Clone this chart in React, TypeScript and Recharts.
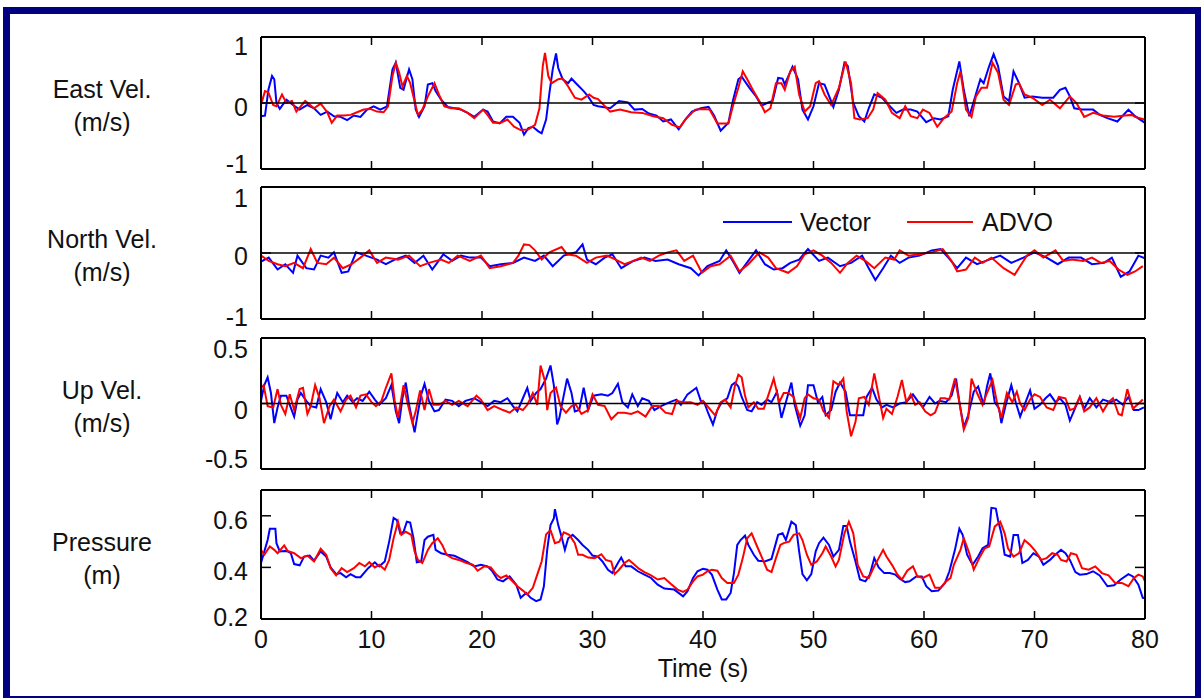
import React from 'react';
import { LineChart, Line, XAxis, YAxis, ReferenceLine } from 'recharts';

const FONT = '"Liberation Sans", Arial, Helvetica, sans-serif';
const VECTOR_COLOR = '#0000ff';
const ADVO_COLOR = '#ff0000';
const TEXT_COLOR = '#111';

const timeTicks = [0, 10, 20, 30, 40, 50, 60, 70, 80];

// [time (s), value] pairs
const eastVector: [number, number][] = [
  [0, -0.2], [0.36, -0.19], [0.67, 0.2], [1.0, 0.41], [1.2, 0.36], [1.4, 0.0], [1.7, -0.09], [2.3, 0.05],
  [2.9, -0.03], [3.5, -0.1], [4.2, -0.03], [4.8, -0.08], [5.4, -0.18], [6.0, -0.13], [6.6, -0.2], [7.2, -0.21],
  [7.8, -0.26], [8.4, -0.19], [9.0, -0.21], [9.6, -0.1], [10.2, -0.05], [10.8, -0.1], [11.4, -0.05], [11.9, 0.51],
  [12.2, 0.61], [12.6, 0.23], [12.9, 0.2], [13.4, 0.51], [13.7, 0.36], [14.0, -0.1], [14.3, -0.21], [14.8, -0.05],
  [15.1, 0.28], [15.5, 0.3], [15.8, 0.18], [16.3, 0.05], [16.9, -0.06], [17.5, -0.08], [18.1, -0.1], [18.7, -0.15],
  [19.3, -0.21], [20.1, -0.1], [20.5, -0.13], [21.0, -0.28], [21.6, -0.31], [22.2, -0.21], [22.8, -0.21], [23.4, -0.3],
  [23.8, -0.48], [24.2, -0.38], [24.6, -0.36], [25.1, -0.43], [25.4, -0.46], [25.8, -0.25], [26.1, 0.15], [26.4, 0.51],
  [26.7, 0.75], [26.9, 0.53], [27.3, 0.36], [27.8, 0.3], [28.1, 0.37], [28.5, 0.3], [29.2, 0.18], [29.6, 0.1],
  [30.1, -0.03], [30.5, -0.05], [31.6, -0.08], [32.4, 0.03], [33.2, 0.01], [33.8, -0.1], [34.5, -0.09], [35.1, -0.16],
  [35.8, -0.19], [36.4, -0.28], [37.1, -0.25], [37.8, -0.4], [38.4, -0.25], [39.0, -0.13], [39.8, -0.08], [40.5, -0.06],
  [41.0, -0.19], [41.6, -0.42], [42.3, -0.3], [42.7, 0.03], [43.2, 0.36], [43.5, 0.4], [44.2, 0.23], [44.8, 0.1],
  [45.3, -0.04], [45.8, 0.0], [46.3, 0.03], [46.8, 0.38], [47.2, 0.37], [47.4, 0.28], [48.1, 0.55], [48.6, 0.36],
  [49.0, -0.1], [49.5, -0.25], [50.0, -0.05], [50.5, 0.3], [51.0, 0.28], [51.8, -0.06], [52.3, 0.2], [52.8, 0.61],
  [53.1, 0.56], [53.6, 0.0], [54.1, -0.2], [54.6, -0.28], [55.0, -0.08], [55.5, 0.13], [56.2, 0.08], [56.8, -0.03],
  [57.5, -0.15], [58.1, -0.1], [58.8, -0.1], [59.4, -0.13], [60.2, -0.29], [60.9, -0.23], [61.5, -0.25], [62.2, -0.2],
  [62.6, 0.2], [63.2, 0.63], [63.6, 0.2], [64.1, -0.2], [64.6, 0.08], [65.1, 0.36], [65.4, 0.3], [65.9, 0.56],
  [66.3, 0.74], [66.7, 0.56], [67.2, 0.1], [67.7, 0.03], [68.1, 0.48], [68.6, 0.3], [69.1, 0.08], [69.8, 0.1],
  [70.7, 0.08], [71.7, 0.08], [72.3, 0.2], [72.8, 0.23], [73.2, 0.1], [73.6, -0.08], [74.3, -0.1], [75.3, -0.1],
  [75.9, -0.18], [76.6, -0.23], [77.5, -0.28], [78.5, -0.1], [79.1, -0.2], [80, -0.3],
];

const eastAdvo: [number, number][] = [
  [0, -0.03], [0.36, 0.18], [0.67, 0.16], [1.1, -0.03], [1.4, -0.05], [1.9, 0.13], [2.3, 0.0], [2.8, 0.03],
  [3.2, -0.13], [4.0, 0.03], [4.8, -0.08], [5.4, -0.01], [6.0, -0.14], [6.4, -0.3], [6.9, -0.19], [7.5, -0.19],
  [8.1, -0.18], [8.7, -0.14], [9.3, -0.1], [9.9, -0.09], [10.5, -0.13], [11.1, -0.14], [11.5, -0.05], [11.9, 0.41],
  [12.2, 0.61], [12.5, 0.46], [12.8, 0.25], [13.2, 0.41], [13.5, 0.3], [14.2, -0.18], [14.6, -0.1], [15.1, 0.1],
  [15.7, 0.3], [16.1, 0.13], [16.6, -0.05], [17.2, -0.08], [17.9, -0.08], [18.7, -0.15], [19.3, -0.23], [20.1, -0.1],
  [20.5, -0.18], [21.0, -0.3], [21.7, -0.3], [22.3, -0.25], [22.9, -0.36], [23.5, -0.41], [24.2, -0.4], [24.8, -0.33],
  [25.2, -0.08], [25.5, 0.56], [25.7, 0.76], [26.0, 0.41], [26.3, 0.3], [26.9, 0.36], [27.3, 0.37], [27.8, 0.25],
  [28.4, 0.08], [29.0, 0.05], [29.7, 0.13], [30.1, 0.08], [30.5, 0.06], [31.6, -0.13], [32.5, -0.1], [33.5, -0.14],
  [34.5, -0.15], [35.5, -0.2], [36.4, -0.23], [37.2, -0.33], [37.9, -0.37], [38.5, -0.23], [39.3, -0.1], [40.0, -0.09],
  [40.6, -0.1], [41.3, -0.31], [42.3, -0.31], [42.7, -0.05], [43.2, 0.23], [43.6, 0.48], [44.0, 0.36], [44.5, 0.2],
  [45.2, 0.0], [45.6, -0.14], [46.1, -0.08], [46.6, 0.3], [47.1, 0.3], [47.4, 0.2], [47.9, 0.48], [48.3, 0.55],
  [48.7, 0.13], [49.2, -0.13], [49.7, -0.05], [50.2, 0.3], [50.5, 0.33], [51.0, 0.13], [51.6, -0.03], [52.3, 0.23],
  [52.9, 0.63], [53.4, 0.3], [53.7, -0.23], [54.2, -0.25], [54.9, -0.23], [55.4, -0.1], [55.8, 0.15], [56.5, 0.05],
  [57.1, -0.15], [57.8, -0.23], [58.3, -0.05], [58.8, -0.2], [59.4, -0.23], [59.9, -0.1], [60.5, -0.15], [61.2, -0.36],
  [61.8, -0.23], [62.5, -0.13], [63.0, 0.3], [63.3, 0.48], [63.8, -0.1], [64.3, -0.21], [64.7, 0.1], [65.2, 0.23],
  [65.7, 0.23], [66.2, 0.61], [66.7, 0.46], [67.2, 0.05], [67.7, -0.03], [68.3, 0.28], [68.6, 0.3], [69.1, 0.13],
  [69.8, 0.08], [70.7, -0.03], [71.4, 0.05], [72.3, -0.08], [73.2, 0.1], [73.8, 0.0], [74.5, -0.21], [75.3, -0.15],
  [76.2, -0.19], [77.2, -0.21], [78.2, -0.19], [78.8, -0.18], [79.1, -0.21], [80, -0.25],
];

const northVector: [number, number][] = [
  [0, -0.13], [0.7, -0.07], [1.5, -0.25], [2.2, -0.17], [2.9, -0.3], [3.3, -0.04], [4.1, -0.23], [4.8, -0.25],
  [5.4, -0.04], [6.1, -0.07], [6.6, 0.01], [7.3, -0.3], [7.9, -0.28], [8.6, 0.01], [9.5, -0.04], [10.5, -0.1],
  [11.3, -0.17], [12.1, -0.1], [13.1, -0.04], [13.9, -0.15], [14.7, -0.04], [15.5, -0.25], [16.5, -0.02], [17.3, -0.12],
  [18.1, -0.04], [18.9, -0.07], [19.9, -0.07], [20.7, -0.2], [21.7, -0.17], [22.8, -0.15], [23.8, -0.07], [24.8, -0.12],
  [25.6, -0.04], [26.4, -0.2], [27.4, -0.04], [28.5, 0.01], [29.1, 0.13], [29.5, -0.1], [30.3, -0.17], [31.1, -0.07],
  [31.8, -0.02], [32.6, -0.23], [33.7, -0.12], [34.7, -0.07], [35.7, -0.12], [36.8, -0.1], [37.8, -0.17], [38.9, -0.23],
  [39.6, -0.34], [40.4, -0.2], [41.5, -0.12], [42.1, 0.04], [42.8, -0.15], [43.3, -0.3], [44.1, -0.12], [44.8, 0.04],
  [45.6, -0.17], [46.4, -0.25], [47.2, -0.23], [47.9, -0.15], [48.7, -0.1], [49.5, 0.06], [50.5, -0.12], [51.3, -0.07],
  [52.4, -0.2], [53.4, -0.15], [54.4, -0.04], [55.0, -0.23], [55.6, -0.41], [56.3, -0.23], [57.0, -0.04], [57.8, -0.15],
  [58.6, -0.07], [59.6, -0.04], [60.7, 0.04], [61.5, 0.06], [62.2, -0.07], [63.0, -0.23], [63.8, -0.07], [64.8, -0.17],
  [65.9, -0.1], [66.9, -0.04], [67.9, -0.15], [69.0, -0.07], [70.0, 0.01], [71.1, -0.07], [72.1, -0.17], [73.1, -0.07],
  [74.2, -0.07], [75.2, -0.17], [76.3, -0.15], [77.0, -0.07], [77.8, -0.36], [78.6, -0.28], [79.4, -0.04], [80, -0.08],
];

const northAdvo: [number, number][] = [
  [0, -0.04], [0.7, -0.12], [1.5, -0.17], [2.2, -0.2], [3.0, -0.15], [3.8, -0.23], [4.5, 0.06], [5.1, -0.15],
  [5.9, -0.17], [6.6, -0.07], [7.4, -0.23], [8.2, -0.17], [9.0, -0.07], [9.8, 0.04], [10.5, -0.15], [11.3, -0.07],
  [12.4, -0.1], [13.4, -0.04], [14.4, -0.2], [15.2, -0.15], [16.3, -0.1], [17.0, -0.15], [17.8, -0.04], [18.9, -0.12],
  [19.9, -0.04], [20.7, -0.23], [21.7, -0.2], [22.8, -0.15], [23.3, -0.04], [23.8, 0.13], [24.3, 0.12], [24.8, 0.04],
  [25.4, -0.1], [26.1, 0.01], [27.2, 0.09], [27.7, -0.02], [28.5, -0.04], [29.5, -0.15], [30.3, -0.07], [31.3, -0.04],
  [32.1, -0.1], [32.9, -0.17], [33.7, -0.12], [34.4, -0.07], [35.2, -0.12], [36.0, -0.04], [36.8, 0.01], [37.6, 0.04],
  [38.3, -0.12], [39.1, -0.04], [39.9, -0.3], [40.7, -0.2], [41.5, -0.17], [42.5, -0.04], [43.3, -0.28], [44.1, -0.17],
  [45.1, 0.01], [45.9, -0.07], [46.6, -0.23], [47.7, -0.3], [48.5, -0.2], [49.2, -0.02], [50.0, 0.04], [50.8, -0.04],
  [51.6, -0.15], [52.4, -0.3], [53.1, -0.15], [53.9, -0.04], [54.7, -0.12], [55.5, -0.23], [56.5, -0.07], [57.3, -0.1],
  [57.8, 0.04], [58.6, -0.04], [59.6, -0.02], [60.7, 0.01], [61.7, 0.06], [62.5, -0.12], [63.0, -0.28], [63.8, -0.25],
  [64.6, -0.07], [65.3, -0.15], [66.1, -0.07], [67.2, -0.23], [68.2, -0.33], [69.3, -0.04], [70.0, 0.04], [70.8, -0.07],
  [71.9, 0.04], [72.6, -0.12], [73.4, -0.1], [74.4, -0.12], [75.2, -0.07], [76.0, -0.15], [76.8, -0.12], [77.6, -0.25],
  [78.4, -0.33], [79.1, -0.28], [79.8, -0.2],
];

const upVector: [number, number][] = [
  [0, 0.02], [0.3, 0.14], [0.6, 0.2], [0.9, 0.08], [1.2, -0.15], [1.5, -0.03], [1.8, 0.06], [2.3, 0.06],
  [2.6, -0.01], [3.0, -0.1], [3.3, 0.03], [3.6, 0.08], [4.1, 0.02], [4.5, -0.02], [5.0, -0.03], [5.4, 0.11],
  [5.9, 0.01], [6.3, -0.12], [6.6, -0.01], [6.9, 0.08], [7.4, 0.01], [7.8, 0.06], [8.3, 0.01], [8.7, 0.04],
  [9.2, 0.02], [9.8, 0.09], [10.3, 0.03], [10.7, -0.01], [11.3, 0.04], [11.8, 0.14], [12.2, -0.06], [12.5, -0.15],
  [12.8, 0.04], [13.1, 0.16], [13.4, -0.01], [13.9, -0.22], [14.2, -0.07], [14.5, 0.07], [14.8, 0.15], [15.2, 0.02],
  [15.7, -0.06], [16.1, -0.05], [16.7, 0.03], [17.3, 0.02], [17.9, -0.02], [18.5, 0.02], [19.3, 0.04], [19.9, 0.01],
  [20.5, -0.02], [21.1, 0.02], [21.7, 0.01], [22.3, 0.04], [22.8, -0.02], [23.2, -0.06], [23.7, 0.04], [24.1, 0.12],
  [24.4, 0.02], [24.9, 0.08], [25.3, 0.11], [25.8, 0.19], [26.2, 0.29], [26.5, 0.14], [26.8, -0.16], [27.0, -0.11],
  [27.3, 0.02], [27.7, 0.19], [28.1, 0.08], [28.4, -0.06], [28.8, -0.05], [29.2, 0.12], [29.6, -0.05], [30.1, 0.06],
  [30.8, 0.07], [31.4, 0.06], [31.8, 0.08], [32.3, 0.15], [32.7, 0.01], [33.2, -0.03], [33.6, 0.07], [34.1, -0.02],
  [34.5, 0.04], [35.1, 0.02], [35.6, -0.05], [36.2, -0.02], [37.0, 0.01], [37.6, 0.03], [38.0, -0.01], [38.6, 0.07],
  [39.4, 0.12], [39.8, 0.02], [40.1, 0.01], [40.5, -0.08], [40.9, -0.16], [41.3, -0.05], [41.7, 0.01], [42.2, 0.04],
  [42.6, 0.14], [42.9, 0.16], [43.2, 0.13], [43.5, 0.05], [44.0, -0.05], [44.4, -0.06], [44.9, 0.01], [45.3, -0.01],
  [45.8, 0.03], [46.2, 0.01], [46.7, 0.09], [47.1, -0.11], [47.5, 0.01], [48.0, 0.16], [48.3, -0.01], [48.8, -0.17],
  [49.2, -0.09], [49.5, 0.14], [50.0, 0.14], [50.4, 0.01], [50.8, 0.05], [51.1, -0.09], [51.6, -0.05], [52.0, 0.09],
  [52.4, 0.16], [52.9, 0.09], [53.3, -0.09], [53.9, -0.09], [54.5, -0.09], [54.8, 0.05], [55.3, 0.12], [55.7, 0.03],
  [56.2, -0.03], [56.6, -0.01], [57.2, -0.03], [57.8, 0.0], [58.4, 0.01], [59.0, 0.07], [59.5, 0.01], [59.9, -0.03],
  [60.5, 0.05], [61.0, 0.0], [61.4, 0.02], [62.0, 0.01], [62.5, 0.06], [62.9, 0.19], [63.2, 0.01], [63.6, -0.18],
  [64.0, -0.09], [64.5, 0.09], [64.9, 0.13], [65.4, -0.01], [65.7, 0.13], [66.0, 0.23], [66.4, 0.01], [66.8, -0.04],
  [67.0, -0.15], [67.4, -0.01], [67.9, 0.14], [68.3, 0.01], [68.7, -0.1], [69.1, -0.01], [69.6, 0.1], [70.0, -0.04],
  [70.5, -0.01], [71.0, 0.04], [71.4, 0.07], [71.9, 0.01], [72.3, 0.04], [72.8, -0.01], [73.2, -0.13], [73.6, -0.05],
  [74.1, 0.05], [74.5, -0.04], [75.0, 0.04], [75.6, -0.03], [76.2, 0.03], [76.9, 0.01], [77.4, 0.03], [78.0, -0.01],
  [78.5, 0.05], [79.0, -0.05], [79.4, -0.05], [79.9, -0.03],
];

const upAdvo: [number, number][] = [
  [0, 0.12], [0.24, 0.14], [0.6, -0.02], [1.1, -0.03], [1.5, 0.11], [1.8, -0.01], [2.2, -0.08], [2.6, 0.07],
  [3.0, -0.05], [3.5, 0.11], [3.8, 0.12], [4.2, -0.08], [4.5, -0.02], [4.9, 0.14], [5.3, 0.04], [5.7, -0.15],
  [6.2, -0.02], [6.6, 0.03], [7.2, -0.06], [7.7, 0.03], [8.1, 0.06], [8.6, -0.03], [9.0, 0.06], [9.5, 0.07],
  [10.0, 0.01], [10.4, -0.02], [10.9, 0.02], [11.3, 0.12], [11.8, 0.23], [12.1, 0.02], [12.4, -0.11], [12.9, 0.14],
  [13.3, -0.01], [13.7, -0.15], [14.0, -0.06], [14.4, 0.1], [14.8, -0.05], [15.2, 0.11], [15.6, -0.01], [16.1, -0.01],
  [16.7, 0.02], [17.3, -0.01], [17.9, 0.02], [18.7, -0.02], [19.5, 0.06], [19.9, 0.03], [20.5, -0.05], [21.1, -0.02],
  [21.9, -0.05], [22.5, -0.07], [23.1, -0.03], [23.7, -0.05], [24.1, -0.01], [24.6, 0.08], [25.0, -0.01], [25.3, 0.29],
  [25.7, 0.17], [25.9, -0.05], [26.2, 0.08], [26.7, 0.12], [27.1, -0.02], [27.6, -0.07], [28.1, -0.02], [28.5, -0.01],
  [29.0, -0.08], [29.6, -0.05], [30.0, 0.07], [30.5, -0.01], [31.1, -0.02], [31.7, -0.12], [32.3, -0.07], [32.9, -0.07],
  [33.5, -0.08], [34.1, -0.06], [34.8, -0.1], [35.4, -0.02], [36.0, -0.02], [36.6, -0.07], [37.2, -0.08], [37.6, 0.02],
  [38.2, 0.01], [38.9, 0.01], [39.5, -0.01], [40.0, 0.02], [40.7, -0.05], [41.1, -0.09], [41.6, 0.01], [42.0, 0.03],
  [42.5, -0.03], [42.9, 0.14], [43.2, 0.22], [43.5, 0.2], [43.8, 0.06], [44.1, -0.03], [44.6, 0.01], [45.0, -0.04],
  [45.5, -0.04], [45.9, 0.06], [46.4, 0.19], [46.9, 0.01], [47.3, 0.08], [47.7, 0.08], [48.2, 0.05], [48.5, -0.04],
  [48.8, -0.11], [49.2, 0.04], [49.5, 0.07], [50.0, 0.04], [50.5, 0.03], [50.9, -0.06], [51.4, -0.11], [51.8, 0.17],
  [52.3, 0.14], [52.7, 0.19], [53.0, -0.06], [53.4, -0.25], [53.8, -0.14], [54.1, 0.04], [54.6, 0.05], [55.0, -0.01],
  [55.5, 0.23], [55.9, 0.06], [56.3, -0.11], [56.6, -0.04], [57.1, -0.08], [57.6, 0.05], [58.0, 0.18], [58.4, 0.01],
  [58.8, 0.07], [59.2, -0.01], [59.6, 0.01], [60.1, -0.06], [60.6, -0.09], [61.0, -0.07], [61.5, 0.04], [61.9, 0.04],
  [62.3, 0.03], [62.8, 0.19], [63.2, 0.01], [63.6, -0.2], [64.0, -0.11], [64.3, 0.19], [64.8, 0.08], [65.3, -0.01],
  [65.7, 0.08], [66.2, 0.18], [66.6, 0.01], [67.0, -0.11], [67.5, 0.08], [68.0, 0.01], [68.4, 0.09], [68.7, 0.0],
  [69.1, -0.05], [69.6, 0.03], [70.0, 0.07], [70.5, 0.05], [71.1, -0.03], [71.7, -0.05], [72.2, 0.05], [72.8, 0.04],
  [73.2, -0.05], [73.6, -0.04], [74.1, 0.05], [74.5, -0.06], [75.0, -0.03], [75.6, 0.04], [76.2, -0.06], [76.7, 0.01],
  [77.1, 0.04], [77.6, -0.08], [77.9, -0.09], [78.4, 0.11], [78.9, -0.04], [79.3, -0.01], [79.8, 0.03],
];

const pressureVector: [number, number][] = [
  [0, 0.417], [0.3, 0.462], [0.6, 0.506], [0.8, 0.55], [1.3, 0.55], [1.4, 0.494], [1.7, 0.462], [2.3, 0.464],
  [2.7, 0.455], [3.0, 0.413], [3.5, 0.408], [3.9, 0.442], [4.4, 0.446], [4.8, 0.426], [5.4, 0.462], [5.9, 0.442],
  [6.3, 0.4], [6.8, 0.374], [7.2, 0.378], [7.7, 0.362], [8.1, 0.374], [8.6, 0.362], [9.0, 0.362], [9.7, 0.397],
  [10.3, 0.42], [10.7, 0.404], [11.2, 0.423], [11.6, 0.5], [12.0, 0.592], [12.3, 0.583], [12.6, 0.532], [12.9, 0.538],
  [13.2, 0.577], [13.5, 0.574], [13.8, 0.513], [14.1, 0.42], [14.5, 0.423], [14.8, 0.506], [15.1, 0.519], [15.6, 0.526],
  [15.8, 0.468], [16.3, 0.455], [16.9, 0.449], [17.5, 0.445], [18.1, 0.433], [18.7, 0.42], [19.3, 0.404], [19.9, 0.41],
  [20.5, 0.404], [20.9, 0.387], [21.4, 0.353], [21.9, 0.346], [22.5, 0.365], [23.1, 0.333], [23.5, 0.282], [24.0, 0.301],
  [24.4, 0.282], [24.9, 0.269], [25.3, 0.276], [25.6, 0.327], [25.9, 0.468], [26.2, 0.564], [26.5, 0.59], [26.6, 0.626],
  [26.9, 0.564], [27.2, 0.519], [27.5, 0.468], [27.8, 0.513], [28.2, 0.526], [28.7, 0.506], [29.1, 0.487], [29.6, 0.468],
  [30.0, 0.446], [30.5, 0.442], [30.9, 0.423], [31.4, 0.391], [31.8, 0.378], [32.3, 0.417], [32.6, 0.438], [33.0, 0.404],
  [33.5, 0.404], [34.1, 0.385], [34.7, 0.372], [35.3, 0.359], [35.9, 0.333], [36.5, 0.318], [37.4, 0.314], [38.2, 0.288],
  [38.6, 0.308], [39.1, 0.359], [39.5, 0.385], [40.0, 0.395], [40.4, 0.391], [40.8, 0.372], [41.3, 0.314], [41.7, 0.276],
  [42.1, 0.276], [42.5, 0.301], [42.8, 0.378], [43.1, 0.487], [43.4, 0.506], [43.8, 0.523], [44.1, 0.487], [44.6, 0.449],
  [45.0, 0.426], [45.6, 0.423], [46.2, 0.433], [46.8, 0.526], [47.2, 0.532], [47.5, 0.506], [48.0, 0.577], [48.4, 0.564],
  [48.7, 0.462], [49.0, 0.374], [49.4, 0.35], [49.8, 0.374], [50.2, 0.462], [50.5, 0.494], [50.9, 0.515], [51.4, 0.487],
  [51.8, 0.442], [52.3, 0.468], [52.7, 0.56], [53.0, 0.56], [53.3, 0.5], [53.8, 0.423], [54.2, 0.353], [54.7, 0.346],
  [55.1, 0.372], [55.5, 0.436], [55.9, 0.4], [56.4, 0.378], [56.9, 0.378], [57.4, 0.372], [57.8, 0.356], [58.3, 0.343],
  [58.7, 0.346], [59.3, 0.365], [59.8, 0.365], [60.2, 0.327], [60.7, 0.308], [61.3, 0.31], [61.9, 0.34], [62.3, 0.385],
  [62.8, 0.468], [63.2, 0.55], [63.5, 0.526], [63.9, 0.449], [64.4, 0.41], [64.9, 0.442], [65.3, 0.474], [65.8, 0.487],
  [66.1, 0.631], [66.5, 0.628], [66.7, 0.583], [67.0, 0.532], [67.3, 0.449], [67.8, 0.442], [68.1, 0.526], [68.5, 0.526],
  [68.9, 0.417], [69.4, 0.429], [69.9, 0.455], [70.4, 0.442], [70.8, 0.41], [71.4, 0.429], [71.8, 0.446], [72.4, 0.468],
  [72.8, 0.455], [73.2, 0.429], [73.7, 0.382], [74.1, 0.372], [74.7, 0.374], [75.3, 0.385], [75.9, 0.369], [76.6, 0.327],
  [77.2, 0.331], [77.8, 0.353], [78.5, 0.374], [78.9, 0.365], [79.4, 0.333], [79.8, 0.282], [80, 0.28],
];

const pressureAdvo: [number, number][] = [
  [0, 0.468], [0.3, 0.449], [0.8, 0.481], [1.2, 0.468], [1.5, 0.455], [2.1, 0.485], [2.4, 0.464], [3.0, 0.455],
  [3.6, 0.436], [4.2, 0.446], [4.8, 0.423], [5.4, 0.472], [5.9, 0.449], [6.3, 0.397], [6.8, 0.369], [7.3, 0.397],
  [7.8, 0.382], [8.4, 0.397], [8.9, 0.417], [9.4, 0.404], [9.8, 0.42], [10.3, 0.4], [10.7, 0.41], [11.2, 0.391],
  [11.6, 0.429], [12.0, 0.513], [12.4, 0.577], [12.7, 0.526], [13.1, 0.538], [13.6, 0.526], [13.9, 0.462], [14.2, 0.429],
  [14.6, 0.417], [15.1, 0.468], [15.5, 0.494], [16.0, 0.513], [16.4, 0.487], [16.8, 0.449], [17.3, 0.436], [17.9, 0.429],
  [18.6, 0.417], [19.2, 0.41], [19.6, 0.387], [20.2, 0.404], [20.8, 0.4], [21.3, 0.372], [21.7, 0.359], [22.2, 0.369],
  [22.6, 0.353], [23.2, 0.327], [23.7, 0.31], [24.1, 0.295], [24.6, 0.321], [25.0, 0.372], [25.4, 0.423], [25.8, 0.528],
  [26.2, 0.545], [26.6, 0.494], [27.0, 0.5], [27.4, 0.536], [27.9, 0.526], [28.4, 0.494], [28.7, 0.449], [29.1, 0.449],
  [29.6, 0.438], [30.2, 0.436], [30.8, 0.451], [31.2, 0.429], [31.7, 0.423], [32.0, 0.374], [32.4, 0.391], [32.9, 0.417],
  [33.3, 0.429], [33.8, 0.41], [34.2, 0.395], [34.7, 0.382], [35.3, 0.369], [35.9, 0.353], [36.5, 0.359], [37.1, 0.336],
  [37.7, 0.314], [38.2, 0.305], [38.6, 0.314], [39.1, 0.346], [39.5, 0.365], [40.0, 0.372], [40.4, 0.385], [40.8, 0.391],
  [41.3, 0.387], [41.7, 0.359], [42.2, 0.34], [42.8, 0.34], [43.2, 0.372], [43.6, 0.436], [44.0, 0.513], [44.4, 0.532],
  [44.9, 0.481], [45.3, 0.442], [45.8, 0.391], [46.2, 0.382], [46.6, 0.436], [47.0, 0.487], [47.3, 0.494], [47.8, 0.5],
  [48.2, 0.526], [48.7, 0.532], [49.0, 0.506], [49.4, 0.449], [49.8, 0.41], [50.3, 0.423], [50.8, 0.455], [51.1, 0.481],
  [51.6, 0.442], [52.0, 0.404], [52.3, 0.429], [52.8, 0.532], [53.2, 0.577], [53.6, 0.532], [54.0, 0.41], [54.5, 0.365],
  [55.0, 0.359], [55.5, 0.404], [55.9, 0.436], [56.3, 0.468], [56.6, 0.442], [57.1, 0.41], [57.6, 0.372], [58.0, 0.353],
  [58.5, 0.388], [59.0, 0.404], [59.4, 0.365], [59.9, 0.359], [60.5, 0.372], [61.0, 0.321], [61.5, 0.321], [62.0, 0.346],
  [62.4, 0.359], [62.7, 0.41], [63.3, 0.468], [63.6, 0.513], [64.1, 0.455], [64.5, 0.391], [65.0, 0.436], [65.5, 0.474],
  [65.9, 0.481], [66.4, 0.558], [66.9, 0.577], [67.3, 0.532], [67.6, 0.474], [68.1, 0.442], [68.6, 0.455], [69.1, 0.506],
  [69.6, 0.487], [70.1, 0.462], [70.6, 0.429], [71.1, 0.436], [71.6, 0.455], [72.1, 0.449], [72.4, 0.429], [72.9, 0.423],
  [73.3, 0.455], [73.8, 0.449], [74.3, 0.397], [74.9, 0.391], [75.5, 0.404], [76.1, 0.378], [76.7, 0.369], [77.3, 0.34],
  [77.9, 0.34], [78.5, 0.327], [79.0, 0.359], [79.4, 0.372], [79.8, 0.365], [80, 0.346],
];

const toPoints = (arr: [number, number][]) => arr.map(([t, v]) => ({ t, v }));

interface Panel {
  key: string;
  top: number;
  height: number;
  vector: [number, number][];
  advo: [number, number][];
  domain: [number, number];
  ticks: number[];
  labelDy: number[];
  title: string[];
  zeroLine: boolean;
}

const panels: Panel[] = [
  { key: 'east', top: 37, height: 132, vector: eastVector, advo: eastAdvo, domain: [-1, 1], ticks: [-1, 0, 1], labelDy: [-5, 4, 9], title: ['East Vel.', '(m/s)'], zeroLine: true },
  { key: 'north', top: 187, height: 132, vector: northVector, advo: northAdvo, domain: [-1, 1], ticks: [-1, 0, 1], labelDy: [-2, 3, 11], title: ['North Vel.', '(m/s)'], zeroLine: true },
  { key: 'up', top: 338, height: 131, vector: upVector, advo: upAdvo, domain: [-0.5, 0.5], ticks: [-0.5, 0, 0.5], labelDy: [-10, 6, 11], title: ['Up Vel.', '(m/s)'], zeroLine: true },
  { key: 'pressure', top: 490, height: 129, vector: pressureVector, advo: pressureAdvo, domain: [0.2, 0.7], ticks: [0.2, 0.4, 0.6], labelDy: [-2, 4, 4], title: ['Pressure', '(m)'], zeroLine: false },
];

const PLOT_LEFT = 261;
const PLOT_RIGHT = 1145;
const CHART_W = 1201;
const PAD = 12;
// every axis takes 1px of room, so the margins are shrunk by that much
const AXIS = 1;

const textStyle = { fontFamily: FONT, fontSize: 25, fill: TEXT_COLOR } as const;

const bottomTick = (showLabel: boolean) => (props: any) => {
  const { x, y, payload } = props;
  return (
    <g>
      <line x1={x} x2={x} y1={y} y2={y - 8} stroke="#000" strokeWidth={1.5} />
      {showLabel && (
        <text x={x} y={y + 20} textAnchor="middle" dominantBaseline="central" style={textStyle}>
          {payload.value}
        </text>
      )}
    </g>
  );
};

const topTick = (props: any) => {
  const { x, y } = props;
  return <line x1={x} x2={x} y1={y} y2={y + 8} stroke="#000" strokeWidth={1.5} />;
};

const leftTick = (ticks: number[], labelDy: number[]) => (props: any) => {
  const { x, y, payload } = props;
  const i = ticks.indexOf(payload.value);
  return (
    <g>
      <line x1={x} x2={x + 10} y1={y} y2={y} stroke="#000" strokeWidth={1.5} />
      <text x={x - 13} y={y + (labelDy[i] ?? 0)} textAnchor="end" dominantBaseline="central" style={textStyle}>
        {payload.value}
      </text>
    </g>
  );
};

const rightTick = (props: any) => {
  const { x, y } = props;
  return <line x1={x} x2={x - 10} y1={y} y2={y} stroke="#000" strokeWidth={1.5} />;
};

const frame = { stroke: '#000', strokeWidth: 2 };

const PanelChart = ({ p, last }: { p: Panel; last: boolean }) => {
  const bottom = last ? 50 : PAD;
  return (
    <div style={{ position: 'absolute', left: 0, top: p.top - PAD }}>
      <LineChart
        width={CHART_W}
        height={p.height + PAD + bottom}
        margin={{
          top: PAD - AXIS,
          right: CHART_W - PLOT_RIGHT - AXIS,
          bottom: bottom - AXIS,
          left: PLOT_LEFT - AXIS,
        }}
      >
        <XAxis
          xAxisId="b"
          type="number"
          dataKey="t"
          domain={[0, 80]}
          ticks={timeTicks}
          interval={0}
          height={AXIS}
          tickSize={0}
          tickMargin={0}
          tickLine={false}
          axisLine={frame}
          tick={bottomTick(last)}
          allowDataOverflow
        />
        <XAxis
          xAxisId="t"
          orientation="top"
          type="number"
          dataKey="t"
          domain={[0, 80]}
          ticks={timeTicks}
          interval={0}
          height={AXIS}
          tickSize={0}
          tickMargin={0}
          tickLine={false}
          axisLine={frame}
          tick={topTick}
          allowDataOverflow
        />
        <YAxis
          yAxisId="l"
          type="number"
          domain={p.domain}
          ticks={p.ticks}
          interval={0}
          width={AXIS}
          tickSize={0}
          tickMargin={0}
          tickLine={false}
          axisLine={frame}
          tick={leftTick(p.ticks, p.labelDy)}
          allowDataOverflow
        />
        <YAxis
          yAxisId="r"
          orientation="right"
          type="number"
          domain={p.domain}
          ticks={p.ticks}
          interval={0}
          width={AXIS}
          tickSize={0}
          tickMargin={0}
          tickLine={false}
          axisLine={frame}
          tick={rightTick}
          allowDataOverflow
        />
        <Line
          xAxisId="b"
          yAxisId="l"
          data={toPoints(p.vector)}
          dataKey="v"
          type="linear"
          stroke={VECTOR_COLOR}
          strokeWidth={2}
          dot={false}
          activeDot={false}
          isAnimationActive={false}
        />
        <Line
          xAxisId="b"
          yAxisId="l"
          data={toPoints(p.advo)}
          dataKey="v"
          type="linear"
          stroke={ADVO_COLOR}
          strokeWidth={2}
          dot={false}
          activeDot={false}
          isAnimationActive={false}
        />
        {p.zeroLine && <ReferenceLine xAxisId="b" yAxisId="l" y={0} stroke="#000" strokeWidth={1.5} />}
      </LineChart>
    </div>
  );
};

const labelBox = (x: number, y: number, lineHeight = 28): React.CSSProperties => ({
  position: 'absolute',
  left: x,
  top: y,
  transform: 'translate(-50%, -50%)',
  fontFamily: FONT,
  fontSize: 25,
  lineHeight: `${lineHeight}px`,
  color: TEXT_COLOR,
  whiteSpace: 'nowrap',
});

export default function App() {
  return (
    <div style={{ position: 'absolute', left: 0, top: 0, width: 1201, height: 698, background: '#fff', overflow: 'hidden' }}>
      <div
        style={{
          position: 'absolute',
          left: 3,
          top: 7,
          width: 1198,
          height: 691,
          boxSizing: 'border-box',
          borderStyle: 'solid',
          borderColor: '#000080',
          borderWidth: '7px 6px 2px 7px',
        }}
      />
      {panels.map((p, i) => (
        <PanelChart key={p.key} p={p} last={i === panels.length - 1} />
      ))}
      {panels.map((p) => (
        <React.Fragment key={p.key + '-title'}>
          <div style={labelBox(102, p.top + 52)}>{p.title[0]}</div>
          <div style={labelBox(102, p.top + 85)}>{p.title[1]}</div>
        </React.Fragment>
      ))}
      <div style={labelBox((PLOT_LEFT + PLOT_RIGHT) / 2, 668, 20)}>Time (s)</div>
      {/* legend inside the North panel */}
      <div style={{ position: 'absolute', left: 723, top: 221, width: 69, height: 2, background: VECTOR_COLOR }} />
      <div style={{ ...labelBox(800, 222), transform: 'translate(0, -50%)' }}>Vector</div>
      <div style={{ position: 'absolute', left: 907, top: 221, width: 66, height: 2, background: ADVO_COLOR }} />
      <div style={{ ...labelBox(982, 222), transform: 'translate(0, -50%)' }}>ADVO</div>
    </div>
  );
}
